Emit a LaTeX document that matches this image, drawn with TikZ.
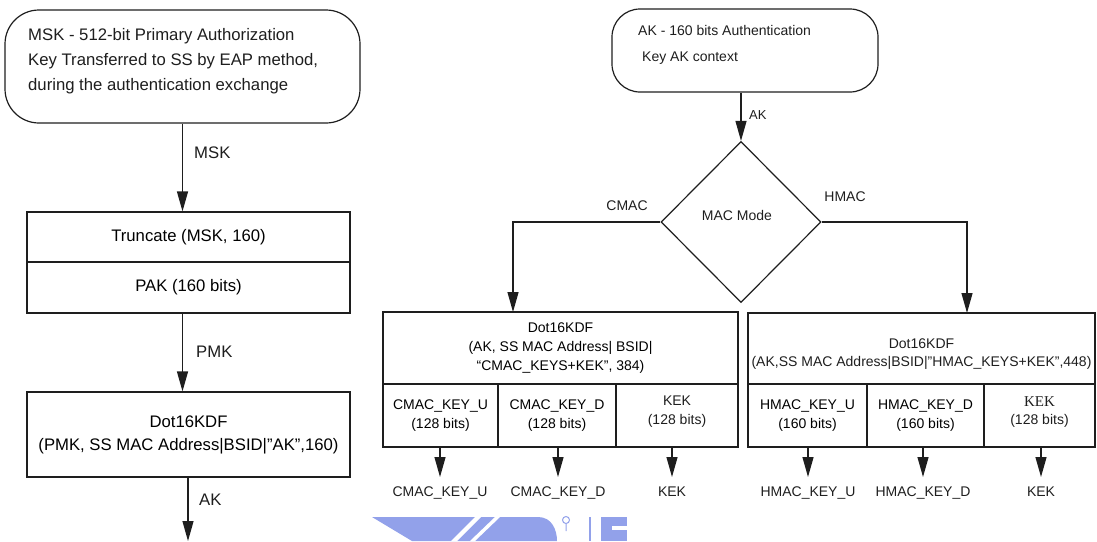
\documentclass[tikz,border=0pt]{standalone}
\usepackage{fontspec}
\setmainfont{Liberation Sans}
\newfontfamily\kekserif{Liberation Serif}
\usetikzlibrary{shapes.geometric,arrows.meta}

\definecolor{ink}{HTML}{1E1E1E}
\definecolor{wm}{RGB}{146,161,234}

\newcommand{\bigtext}{\fontsize{16.7}{23}\selectfont}
\newcommand{\smalltext}{\fontsize{14}{18.8}\selectfont}

\tikzset{
  box/.style={draw=ink, line width=1.2pt, inner sep=0pt, align=center},
  arr/.style={draw=ink, line width=1.2pt, -{Triangle[length=20pt,width=11pt]}},
  lbl/.style={inner sep=0pt, text=ink},
  keylbl/.style={inner xsep=0pt, inner ysep=10pt, anchor=north, font=\smalltext, text=ink},
}

\begin{document}
\begin{tikzpicture}[x=1pt,y=-1pt]
\useasboundingbox (0,0) rectangle (1097,541);

% faint logo band along the bottom edge
\fill[wm] (372,517) -- (538,517) .. controls (552,517) and (557,530) .. (557,541) -- (412,541) -- cycle;
\fill[white] (451,541) -- (457,541) -- (481,517) -- (475,517) -- cycle;
\fill[white] (470,541) -- (475,541) -- (500,517) -- (495,517) -- cycle;
\draw[wm, line width=1pt] (566,520) circle (3.5) (566,524) -- (566,531);
\fill[wm] (589,517) rectangle (591,541);
\fill[wm] (601,517) rectangle (627,541);
\fill[white] (612,526) rectangle (627,530);

% ---------- left column: MSK -> PAK -> AK ----------
\node[box, rounded corners=34pt, minimum width=355pt, minimum height=113pt] (msk) at (182.5,66.5) {};
\node[lbl, anchor=west, align=left, font=\fontsize{16.7}{25}\selectfont] (msktext) at (28,61)
  {MSK - 512-bit Primary Authorization\\Key Transferred to SS by EAP method,\\during the authentication exchange};

\node[box, font=\bigtext, minimum width=323pt, minimum height=50pt] (trunc) at (188.5,237) {Truncate (MSK, 160)};
\node[box, font=\bigtext, minimum width=323pt, minimum height=51pt] (pak) at (188.5,287.5) {PAK (160 bits)};
\node[box, font=\bigtext, minimum width=323pt, minimum height=85pt] (dotak) at (188.5,434.5)
  {Dot16KDF\\(PMK, SS MAC Address|BSID|”AK”,160)};
\coordinate (akout) at (188,541);

\draw[arr] (msk.south) -- (msk.south |- trunc.north);
\node[lbl, anchor=west, font=\bigtext] (msklbl) at (194,153) {MSK};
\draw[arr] (pak.south -| msk.south) -- (dotak.north -| msk.south);
\node[lbl, anchor=west, font=\bigtext] (pmklbl) at (196,352) {PMK};
\draw[arr] (dotak.south -| akout) -- (akout);
\node[lbl, anchor=west, font=\bigtext] (aklbl) at (199,500) {AK};

% ---------- right part: AK context and MAC mode ----------
\node[box, rounded corners=28pt, minimum width=266pt, minimum height=83pt] (akctx) at (745,50.5) {};
\node[lbl, anchor=west, font=\smalltext] (akctx1) at (638,30) {AK - 160 bits Authentication};
\node[lbl, anchor=west, font=\smalltext] (akctx2) at (642,58) {Key AK context};

\node[diamond, draw=ink, line width=1.2pt, inner sep=0pt, minimum width=160pt, minimum height=161pt] (mode) at (741,222) {};
\node[lbl, font=\smalltext] (modetext) at (737,215) {MAC Mode};

\draw[arr] (akctx.south -| mode.north) -- (mode.north);
\node[lbl, anchor=west, font=\fontsize{13}{16}\selectfont] (akctxlbl) at (749,115) {AK};

\coordinate (cmacin) at (513,312);
\coordinate (hmacin) at (967,313);
\draw[arr] (mode.west) -| (cmacin);
\draw[arr] (mode.east) -| (hmacin);
\node[lbl, font=\smalltext] (cmaclbl) at (627,206) {CMAC};
\node[lbl, font=\smalltext] (hmaclbl) at (845,197) {HMAC};

% ---------- CMAC key derivation ----------
\node[box, font=\smalltext, minimum width=355pt, minimum height=72pt] (cmac) at (560.5,348)
  {Dot16KDF\\(AK, SS MAC Address| BSID|\\“CMAC\_KEYS+KEK”, 384)};
\node[box, font=\smalltext, minimum width=115pt, minimum height=63pt] (cku) at (440.5,415.5) {CMAC\_KEY\_U\\(128 bits)};
\node[box, font=\smalltext, minimum width=118pt, minimum height=63pt] (ckd) at (557,415.5) {CMAC\_KEY\_D\\(128 bits)};
\node[box, font=\smalltext, minimum width=122pt, minimum height=63pt] (ckek) at (677,415.5) {};
\node[lbl, align=center, font=\smalltext] (ckektext) at (677,412) {KEK\\(128 bits)};

\node[keylbl] (ckuout) at (440,477) {CMAC\_KEY\_U};
\node[keylbl] (ckdout) at (558,477) {CMAC\_KEY\_D};
\node[keylbl] (ckekout) at (672,477) {KEK};
\draw[arr] (cku.south -| ckuout.north) -- (ckuout.north);
\draw[arr] (ckd.south -| ckdout.north) -- (ckdout.north);
\draw[arr] (ckek.south -| ckekout.north) -- (ckekout.north);

% ---------- HMAC key derivation ----------
\node[box, minimum width=347pt, minimum height=71pt] (hmac) at (921.5,348.5) {};
\node[lbl, align=center, font=\smalltext] (hmactext) at (921.5,354)
  {Dot16KDF\\(AK,SS MAC Address|BSID|”HMAC\_KEYS+KEK”,448)};
\node[box, font=\smalltext, minimum width=119pt, minimum height=63pt] (hku) at (807.5,415.5) {HMAC\_KEY\_U\\(160 bits)};
\node[box, font=\smalltext, minimum width=117pt, minimum height=63pt] (hkd) at (925.5,415.5) {HMAC\_KEY\_D\\(160 bits)};
\node[box, minimum width=111pt, minimum height=63pt] (hkek) at (1039.5,415.5) {};
\node[lbl, align=center, font=\smalltext] (hkektext) at (1039.5,412) {{\kekserif\fontsize{15}{18.8}\selectfont KEK}\\(128 bits)};

\node[keylbl] (hkuout) at (808,477) {HMAC\_KEY\_U};
\node[keylbl] (hkdout) at (923,477) {HMAC\_KEY\_D};
\node[keylbl] (hkekout) at (1041,477) {KEK};
\draw[arr] (hku.south -| hkuout.north) -- (hkuout.north);
\draw[arr] (hkd.south -| hkdout.north) -- (hkdout.north);
\draw[arr] (hkek.south -| hkekout.north) -- (hkekout.north);
\end{tikzpicture}
\end{document}
